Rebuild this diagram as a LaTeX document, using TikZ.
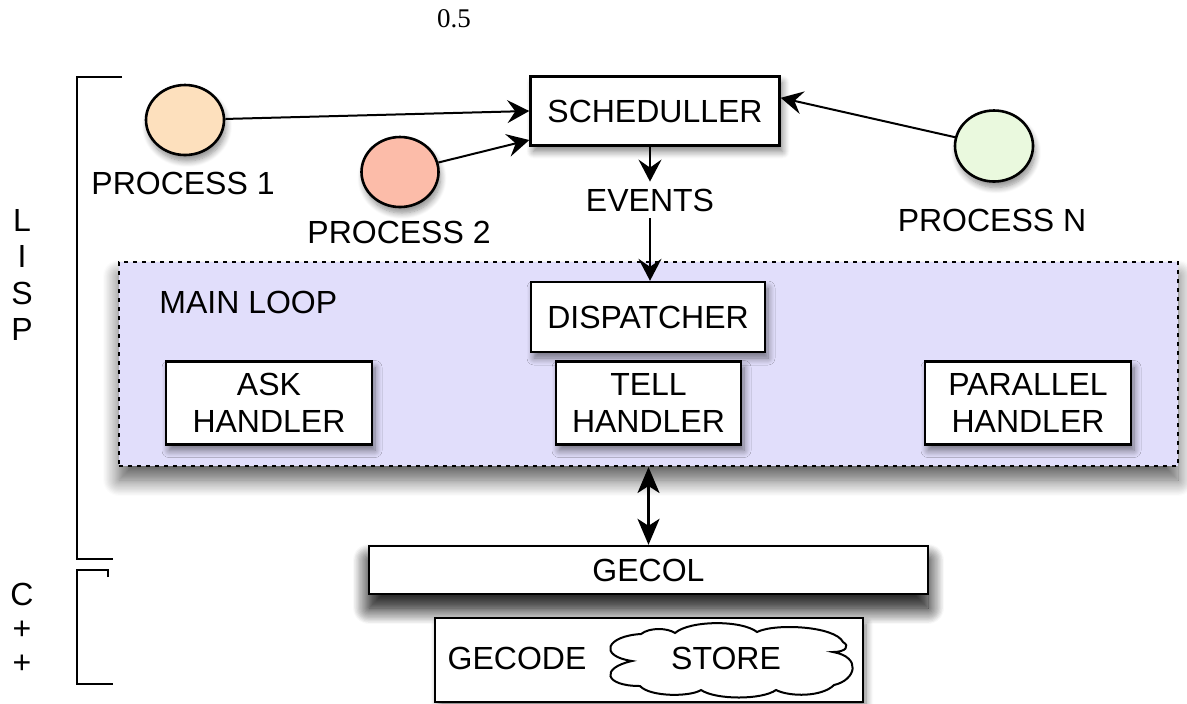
\documentclass[tikz,border=0pt]{standalone}
\usepackage{fontspec}
\setmainfont{Liberation Sans}
\newfontfamily\numfont{Liberation Serif}
\usetikzlibrary{shapes.geometric,arrows.meta,shadows.blur}

\definecolor{procA}{HTML}{FDE0BD}
\definecolor{procB}{HTML}{FCBCA9}
\definecolor{procN}{HTML}{EAF9DE}
\definecolor{loopFill}{HTML}{E1DEFB}

\tikzset{
  lbl/.style={font=\fontsize{16}{18.5}\selectfont, align=center},
  box/.style={lbl, draw, line width=1.2pt, fill=white, inner sep=0pt,
    blur shadow={shadow xshift=1.5pt, shadow yshift=-3pt, shadow blur radius=3.5pt, shadow blur steps=8, shadow opacity=50}},
  proc/.style={ellipse, draw, line width=1.3pt, inner sep=0pt, minimum width=39pt, minimum height=35pt,
    blur shadow={shadow xshift=1pt, shadow yshift=-3pt, shadow blur radius=3pt, shadow blur steps=8, shadow opacity=45}},
  arr/.style={-{Stealth[length=11pt,width=11.5pt,inset=4pt]}, line width=1pt},
  darr/.style={{Stealth[length=13pt,width=11pt,inset=3.5pt]}-{Stealth[length=13pt,width=11pt,inset=3.5pt]}, line width=1.2pt},
  deepshadow/.style={blur shadow={shadow xshift=0pt, shadow yshift=-7pt, shadow blur radius=8pt, shadow blur steps=14, shadow opacity=65}},
}

\begin{document}
\begin{tikzpicture}[x=0.5pt, y=-0.5pt]
  \useasboundingbox (0,0) rectangle (1187,703);

  \node[font=\numfont\fontsize{13.5}{15}\selectfont] (ratio) at (454,19) {0.5};

  % language brackets
  \draw[line width=1pt] (122,77) -- (77,77) -- (77,559) -- (113,559);
  \draw[line width=1pt] (108,577) -- (108,570) -- (77,570) -- (77,684) -- (113,684);
  \node[lbl, font=\fontsize{16}{18.3}\selectfont] (lisp) at (22,275) {L\\I\\S\\P};
  \node[lbl, font=\fontsize{16}{17}\selectfont] (cpp) at (22,628) {C\\+\\+};

  \node[draw, fill=loopFill, line width=1pt, dash pattern=on 2pt off 2.5pt,
        minimum width=529.5pt, minimum height=102pt, deepshadow] (mainloop) at (648.5,364) {};
  \node[lbl, anchor=west, inner sep=0pt] (looplbl) at (159,302) {MAIN LOOP};

  \node[box, minimum width=124.5pt, minimum height=34.5pt] (sched) at (655,111) {SCHEDULLER};
  \node[proc, fill=procA] (p1) at (185,120) {};
  \node[proc, fill=procB, minimum width=38.5pt] (p2) at (400,172) {};
  \node[proc, fill=procN, minimum height=35.5pt] (pN) at (994,146) {};
  \node[lbl] (p1lbl) at (183,183) {PROCESS 1};
  \node[lbl] (p2lbl) at (399,232) {PROCESS 2};
  \node[lbl] (pNlbl) at (992,220) {PROCESS N};
  \node[lbl] (events) at (650,200) {EVENTS};

  \node[box, minimum width=117pt, minimum height=35pt] (disp) at (648,317) {DISPATCHER};
  \node[box, minimum width=103pt, minimum height=41.5pt] (ask) at (269,403) {ASK\\HANDLER};
  \node[box, minimum width=92.5pt, minimum height=41.5pt] (tell) at (648.5,403) {TELL\\HANDLER};
  \node[box, minimum width=103pt, minimum height=41.5pt] (par) at (1028,403) {PARALLEL\\HANDLER};

  \node[box, minimum width=279.5pt, minimum height=24pt, deepshadow] (gecol) at (648.5,570) {GECOL};
  \node[box, minimum width=214pt, minimum height=42pt] (gecode) at (649,660) {};
  \node[lbl] (gecodelbl) at (517,658) {GECODE};
  \node[lbl] (store) at (726,658) {STORE};
  \draw[line width=1pt] (632,661) .. controls (598,656) and (606,636) .. (641,634)
    .. controls (650,627) and (668,628) .. (675,633)
    .. controls (690,620) and (742,620) .. (757,632)
    .. controls (775,623) and (835,626) .. (843,642)
    .. controls (850,646) and (846,652) .. (833,652)
    .. controls (862,657) and (856,680) .. (834,685)
    .. controls (822,697) and (790,697) .. (776,690)
    .. controls (762,700) and (716,700) .. (701,690)
    .. controls (690,697) and (650,697) .. (640,686)
    .. controls (604,686) and (600,668) .. cycle;

  \draw[arr] (p1) -- (sched.west);
  \draw[arr] (p2) -- (sched.193);
  \draw[arr] (pN) -- (sched.6);
  \draw[arr] (sched.south -| events) -- (events);
  \draw[arr] (events) -- (disp.north -| events);
  \draw[darr] (mainloop.south) -- (gecol.north);
\end{tikzpicture}
\end{document}
